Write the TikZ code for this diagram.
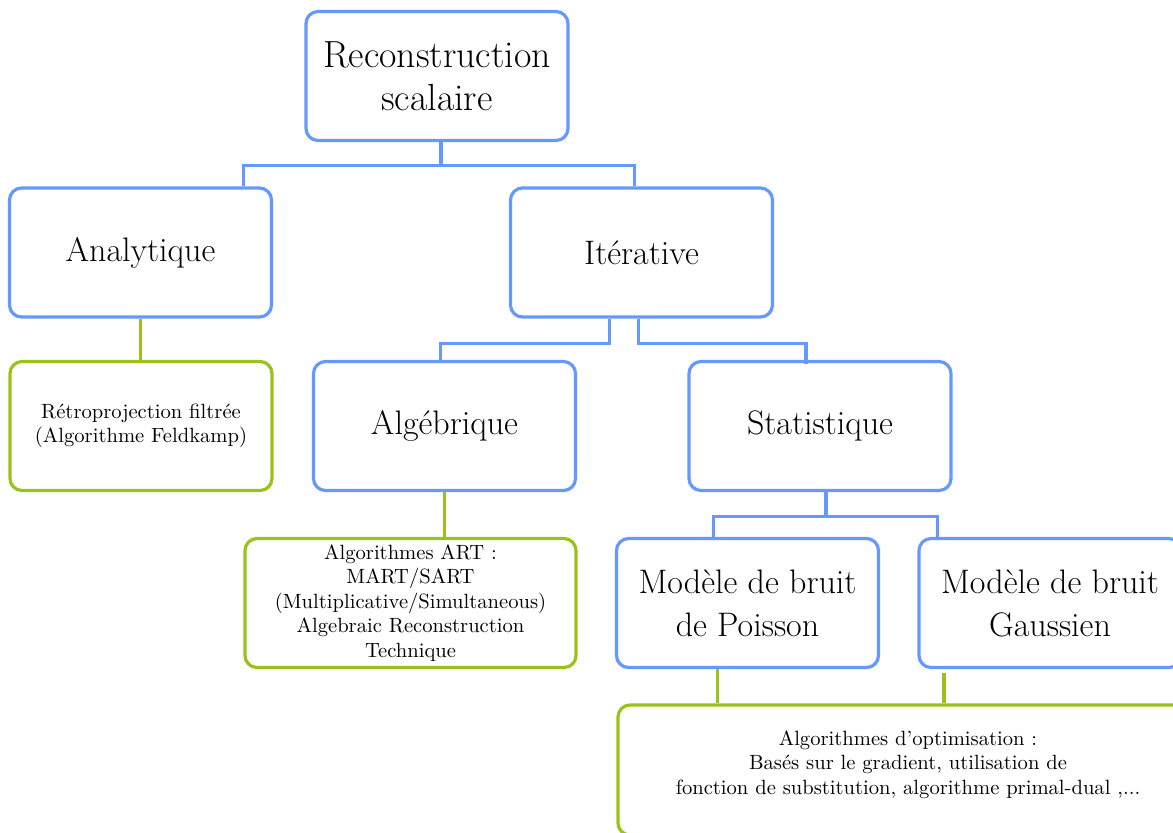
\documentclass[tikz,border=0pt]{standalone}
\usepackage{fontspec}
\usetikzlibrary{calc}
\definecolor{bleu}{RGB}{102,153,255}
\definecolor{vert}{RGB}{153,194,26}
\begin{document}
\begin{tikzpicture}[x=0.5pt, y=-0.5pt, line width=1.6pt,
    bloc/.style={rectangle, rounded corners=6pt, draw=bleu, fill=white, align=center,
                 minimum width=131pt, minimum height=64.5pt, inner sep=0pt,
                 font=\fontsize{17}{21.5}\selectfont},
    feuille/.style={bloc, draw=vert, font=\fontsize{10.3}{12.25}\selectfont}]
  \useasboundingbox (0,0) rectangle (1173,832);
  \clip (0,0) rectangle (1173,832);

  % niveaux
  \node[bloc, font=\fontsize{18.9}{21.5}\selectfont] (recon) at (437,76) {Reconstruction\\scalaire};
  \node[bloc] (ana) at (140.5,252.5) {Analytique};
  \node[bloc] (ite) at (641.5,252.5) {Itérative};
  \node[feuille] (retro) at (141,426) {Rétroprojection filtrée\\(Algorithme Feldkamp)};
  \node[bloc] (alg) at (444.5,426) {Algébrique};
  \node[bloc] (stat) at (820,426) {Statistique};
  \node[feuille, minimum width=165.5pt] (art) at (410.5,603)
    {Algorithmes ART :\\MART/SART\\(Multiplicative/Simultaneous)\\Algebraic Reconstruction\\Technique};
  \node[bloc] (pois) at (747.5,603) {Modèle de bruit\\de Poisson};
  \node[bloc] (gaus) at (1050,603) {Modèle de bruit\\Gaussien};
  \node[feuille, minimum width=290pt, minimum height=65pt] (optim) at (908,770)
    {\raisebox{2.5pt}[\height][\depth]{\begin{tabular}{@{}c@{}}Algorithmes d'optimisation :\\Basés sur le gradient, utilisation de\\fonction de substitution, algorithme primal-dual ,...\end{tabular}}};

  % liens bleus
  \draw[bleu] ($(recon.south)+(4,0)$) -- ++(0,23) coordinate (j1);
  \draw[bleu] ($(ana.north)+(103,0)$) |- (j1) -| ($(ite.north)+(-7,0)$);
  \draw[bleu] ($(ite.south)+(-32,0)$) -- ++(0,25) -| ($(alg.north)+(-4,0)$);
  \draw[bleu] ($(ite.south)+(-3,0)$) -- ++(0,25) -| ($(stat.north)+(-14,4)$);
  \draw[bleu] ($(stat.south)+(6,0)$) -- ++(0,24) coordinate (j2);
  \draw[bleu] ($(pois.north)+(-34,0)$) |- (j2) -| ($(gaus.north west)+(20,0)$);

  % liens verts
  \draw[vert] (ana.south) -- (ana.south |- retro.north);
  \draw[vert] (alg.south) -- (alg.south |- art.north);
  \draw[vert] ($(pois.south)+(-30,0)$) coordinate (p1) -- (p1 |- optim.north);
  \draw[vert] ($(gaus.south)+(-106,4)$) coordinate (g1) -- (g1 |- optim.north);
\end{tikzpicture}
\end{document}
